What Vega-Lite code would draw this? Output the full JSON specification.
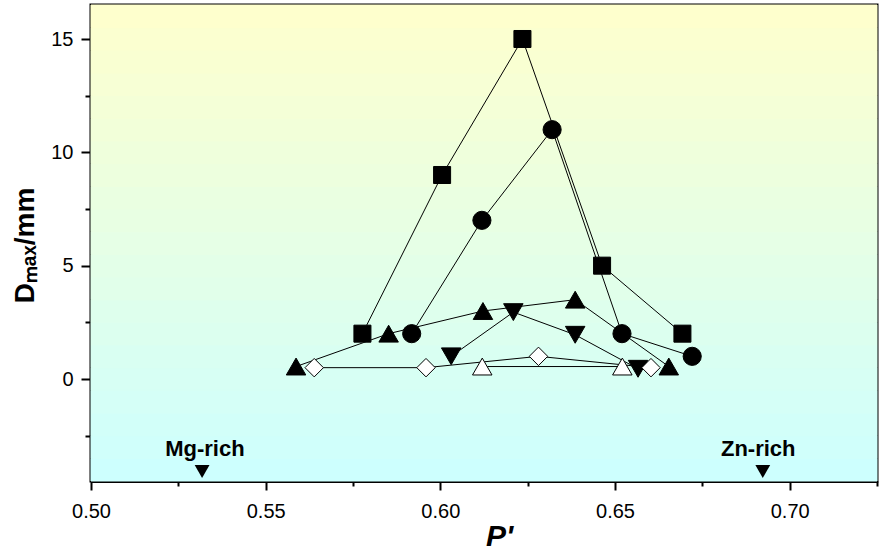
{
  "$schema": "https://vega.github.io/schema/vega-lite/v6.json",
  "width": 786,
  "height": 476,
  "autosize": "none",
  "padding": {"left": 91, "top": 5, "right": 3, "bottom": 71},
  "background": "white",
  "config": {
    "view": {"stroke": "black", "strokeWidth": 3},
    "axis": {
      "grid": false,
      "domainColor": "black",
      "domainWidth": 3,
      "tickColor": "black",
      "tickWidth": 2,
      "labelColor": "black",
      "labelFont": "Liberation Sans",
      "labelFontSize": 20,
      "titleColor": "black",
      "titleFont": "Liberation Sans",
      "titleFontWeight": "bold"
    }
  },
  "resolve": {"axis": {"x": "independent", "y": "independent"}},
  "datasets": {
    "bands": [
      {"lo": -4.5, "hi": -3.5, "mid": -4},
      {"lo": -3.5, "hi": -2.5, "mid": -3},
      {"lo": -2.5, "hi": -1.5, "mid": -2},
      {"lo": -1.5, "hi": -0.5, "mid": -1},
      {"lo": -0.5, "hi": 0.5, "mid": 0},
      {"lo": 0.5, "hi": 1.5, "mid": 1},
      {"lo": 1.5, "hi": 2.5, "mid": 2},
      {"lo": 2.5, "hi": 3.5, "mid": 3},
      {"lo": 3.5, "hi": 4.5, "mid": 4},
      {"lo": 4.5, "hi": 5.5, "mid": 5},
      {"lo": 5.5, "hi": 6.5, "mid": 6},
      {"lo": 6.5, "hi": 7.5, "mid": 7},
      {"lo": 7.5, "hi": 8.5, "mid": 8},
      {"lo": 8.5, "hi": 9.5, "mid": 9},
      {"lo": 9.5, "hi": 10.5, "mid": 10},
      {"lo": 10.5, "hi": 11.5, "mid": 11},
      {"lo": 11.5, "hi": 12.5, "mid": 12},
      {"lo": 12.5, "hi": 13.5, "mid": 13},
      {"lo": 13.5, "hi": 14.5, "mid": 14},
      {"lo": 14.5, "hi": 15.5, "mid": 15},
      {"lo": 15.5, "hi": 16.5, "mid": 16}
    ],
    "pts": [
      {"s": "sq", "i": 1, "x": 0.5777, "y": 2},
      {"s": "sq", "i": 2, "x": 0.6005, "y": 9},
      {"s": "sq", "i": 3, "x": 0.6235, "y": 15},
      {"s": "sq", "i": 4, "x": 0.6463, "y": 5},
      {"s": "sq", "i": 5, "x": 0.6693, "y": 2},
      {"s": "ci", "i": 1, "x": 0.5918, "y": 2},
      {"s": "ci", "i": 2, "x": 0.6119, "y": 7},
      {"s": "ci", "i": 3, "x": 0.632, "y": 11},
      {"s": "ci", "i": 4, "x": 0.652, "y": 2},
      {"s": "ci", "i": 5, "x": 0.6721, "y": 1},
      {"s": "tu", "i": 1, "x": 0.5587, "y": 0.55},
      {"s": "tu", "i": 2, "x": 0.5852, "y": 2},
      {"s": "tu", "i": 3, "x": 0.6122, "y": 3},
      {"s": "tu", "i": 4, "x": 0.6386, "y": 3.5},
      {"s": "tu", "i": 5, "x": 0.6654, "y": 0.55},
      {"s": "td", "i": 1, "x": 0.6031, "y": 1},
      {"s": "td", "i": 2, "x": 0.6209, "y": 2.95},
      {"s": "td", "i": 3, "x": 0.6386, "y": 1.95},
      {"s": "td", "i": 4, "x": 0.6566, "y": 0.45},
      {"s": "di", "i": 1, "x": 0.5639, "y": 0.5},
      {"s": "di", "i": 2, "x": 0.5959, "y": 0.5},
      {"s": "di", "i": 3, "x": 0.6281, "y": 1},
      {"s": "di", "i": 4, "x": 0.6603, "y": 0.5},
      {"s": "to", "i": 1, "x": 0.612, "y": 0.55},
      {"s": "to", "i": 2, "x": 0.6521, "y": 0.55}
    ],
    "ann": [
      {"kind": "tri", "label": "Mg-rich", "x": 0.5318, "y": -4.08},
      {"kind": "tri", "label": "Zn-rich", "x": 0.6923, "y": -4.08},
      {"kind": "text", "label": "Mg-rich", "x": 0.5326, "y": -3.08},
      {"kind": "text", "label": "Zn-rich", "x": 0.691, "y": -3.08}
    ]
  },
  "layer": [
    {
      "data": {"name": "bands"},
      "mark": {"type": "rect", "strokeWidth": 1},
      "encoding": {
        "x": {
          "datum": 0.5, "type": "quantitative",
          "scale": {"domain": [0.5, 0.725], "nice": false, "zero": false},
          "axis": {"orient": "bottom", "values": [0.525, 0.575, 0.625, 0.675, 0.725], "labels": false, "domain": false, "tickSize": 5, "title": null}
        },
        "x2": {"datum": 0.725},
        "y": {
          "field": "lo", "type": "quantitative",
          "scale": {"domain": [-4.5, 16.5], "nice": false, "zero": false},
          "axis": {"orient": "left", "values": [-2.5, 2.5, 7.5, 12.5], "labels": false, "domain": false, "tickSize": 6, "title": null}
        },
        "y2": {"field": "hi"},
        "color": {
          "field": "mid", "type": "quantitative", "legend": null,
          "scale": {"domain": [-4.5, 16.5], "range": ["#ccffff", "#ffffcc"], "interpolate": "rgb"}
        },
        "stroke": {
          "field": "mid", "type": "quantitative", "legend": null,
          "scale": {"domain": [-4.5, 16.5], "range": ["#ccffff", "#ffffcc"], "interpolate": "rgb"}
        }
      }
    },
    {
      "data": {"name": "pts"},
      "mark": {"type": "line", "color": "black", "strokeWidth": 1},
      "encoding": {
        "x": {
          "field": "x", "type": "quantitative",
          "axis": {
            "orient": "bottom",
            "title": "P'",
            "titleFontSize": 30,
            "titleFontStyle": "italic",
            "titleX": 408,
            "titleY": 64,
            "titleAlign": "center",
            "titleBaseline": "alphabetic",
            "values": [0.5, 0.55, 0.6, 0.65, 0.7],
            "format": ".2f",
            "tickSize": 9,
            "labelPadding": 11,
            "labelFlush": false,
            "labelOverlap": false
          }
        },
        "y": {
          "field": "y", "type": "quantitative",
          "axis": {
            "orient": "left",
            "title": "Dₘₐₓ/mm",
            "titleFontSize": 28,
            "titleX": -58,
            "titleY": 240,
            "titleAngle": -90,
            "titleAlign": "center",
            "titleBaseline": "alphabetic",
            "values": [0, 5, 10, 15],
            "tickSize": 10,
            "labelPadding": 8,
            "labelOverlap": false
          }
        },
        "detail": {"field": "s", "type": "nominal"},
        "order": {"field": "i", "type": "quantitative"}
      }
    },
    {
      "data": {"name": "pts"},
      "mark": {"type": "point", "filled": true, "opacity": 1, "strokeWidth": 0},
      "encoding": {
        "x": {
          "field": "x", "type": "quantitative",
          "axis": {"orient": "top", "values": [0.525, 0.55, 0.575, 0.6, 0.625, 0.65, 0.675, 0.7], "labels": false, "domain": false, "tickSize": -4, "title": null}
        },
        "y": {
          "field": "y", "type": "quantitative",
          "axis": {"orient": "right", "values": [-2.5, 0, 2.5, 5, 7.5, 10, 12.5, 15], "labels": false, "domain": false, "tickSize": -4, "title": null}
        },
        "color": {"field": "y", "type": "quantitative", "legend": null},
        "shape": {
          "field": "s", "type": "nominal", "legend": null,
          "scale": {"domain": ["sq", "ci", "tu", "td", "di", "to"], "range": ["square", "circle", "triangle-up", "triangle-down", "diamond", "triangle-up"]}
        },
        "size": {
          "field": "s", "type": "nominal", "legend": null,
          "scale": {"type": "ordinal", "domain": ["sq", "ci", "tu", "td", "di", "to"], "range": [290, 330, 380, 380, 340, 380]}
        }
      }
    },
    {
      "data": {"name": "pts"},
      "mark": {"type": "point", "filled": true, "stroke": "black", "strokeWidth": 1, "opacity": 1},
      "encoding": {
        "x": {"field": "x", "type": "quantitative", "axis": null},
        "y": {"field": "y", "type": "quantitative", "axis": null},
        "shape": {"field": "s", "type": "nominal", "legend": null},
        "fill": {
          "field": "s", "type": "nominal", "legend": null,
          "scale": {"domain": ["sq", "ci", "tu", "td", "di", "to"], "range": ["black", "black", "black", "black", "white", "white"]}
        },
        "size": {"field": "s", "type": "nominal", "legend": null,
          "scale": {"type": "ordinal", "domain": ["sq", "ci", "tu", "td", "di", "to"], "range": [170, 200, 225, 225, 210, 225]}
        }
      }
    },
    {
      "data": {"name": "ann"},
      "transform": [{"filter": "datum.kind == 'tri'"}],
      "mark": {"type": "point", "shape": "triangle-down", "filled": true, "color": "black", "size": 220, "opacity": 1},
      "encoding": {
        "x": {"field": "x", "type": "quantitative", "axis": null},
        "y": {"field": "y", "type": "quantitative", "axis": null}
      }
    },
    {
      "data": {"name": "ann"},
      "transform": [{"filter": "datum.kind == 'text'"}],
      "mark": {"type": "text", "font": "Liberation Sans", "fontWeight": "bold", "fontSize": 22, "color": "black", "align": "center", "baseline": "middle"},
      "encoding": {
        "x": {"field": "x", "type": "quantitative", "axis": null},
        "y": {"field": "y", "type": "quantitative", "axis": null},
        "text": {"field": "label"}
      }
    }
  ]
}
